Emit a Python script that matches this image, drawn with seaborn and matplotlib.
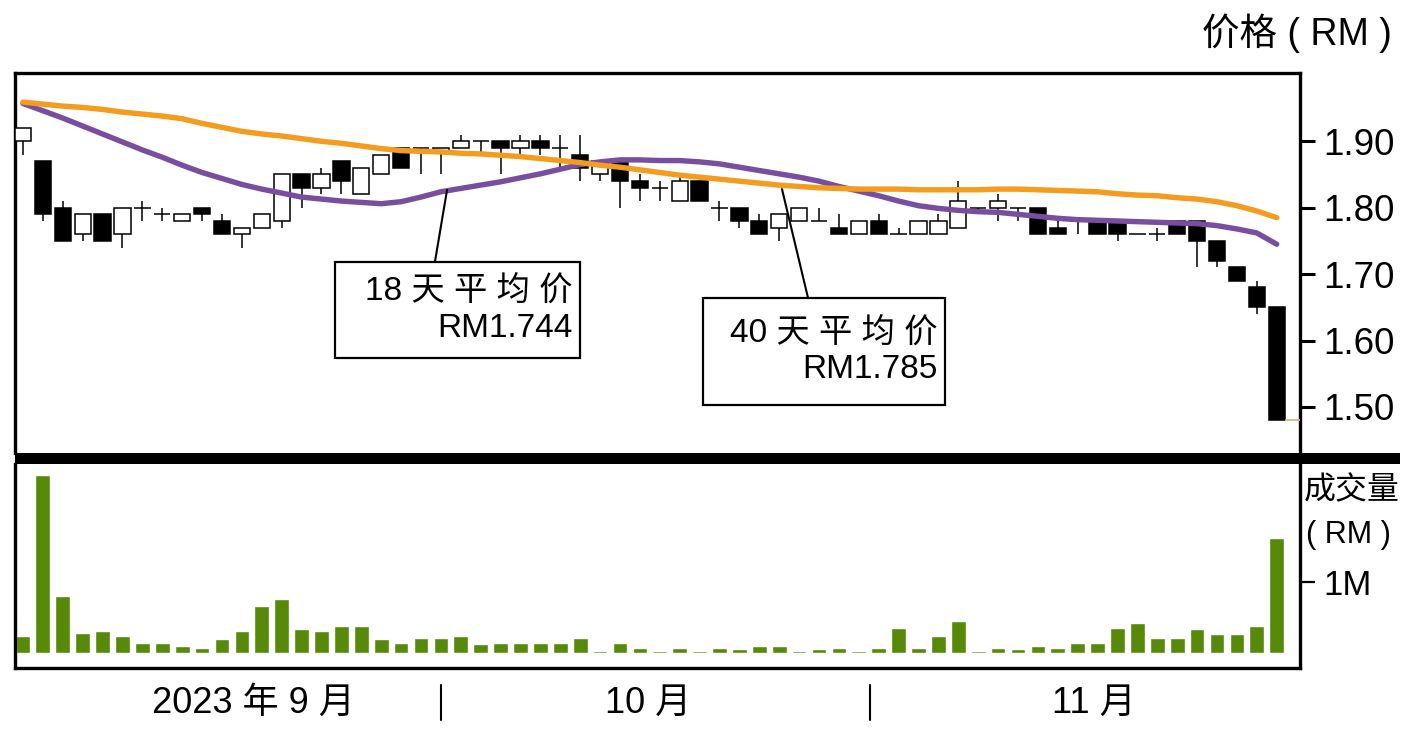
import numpy as np
import pandas as pd
import matplotlib
matplotlib.use("Agg")
import matplotlib.pyplot as plt
import matplotlib.transforms as mtransforms
from matplotlib.patches import Rectangle
from matplotlib.lines import Line2D
import seaborn as sns

# ---------------- data ----------------
opens = [1.90, 1.87, 1.80, 1.76, 1.79, 1.76, 1.80, 1.79, 1.78, 1.80,
         1.78, 1.76, 1.77, 1.78, 1.85, 1.83, 1.87, 1.82, 1.85, 1.89,
         1.89, 1.885, 1.89, 1.90, 1.90, 1.89, 1.90, 1.89, 1.88, 1.85,
         1.87, 1.84, 1.83, 1.81, 1.84, 1.80, 1.80, 1.78, 1.77, 1.78,
         1.78, 1.77, 1.76, 1.78, 1.76, 1.76, 1.76, 1.77, 1.80, 1.80,
         1.80, 1.80, 1.77, 1.78, 1.78, 1.78, 1.76, 1.76, 1.78, 1.78,
         1.75, 1.71, 1.68, 1.65]
closes = [1.92, 1.79, 1.75, 1.79, 1.75, 1.80, 1.80, 1.79, 1.79, 1.79,
          1.76, 1.77, 1.79, 1.85, 1.83, 1.85, 1.84, 1.86, 1.88, 1.86,
          1.89, 1.89, 1.90, 1.90, 1.89, 1.90, 1.89, 1.89, 1.86, 1.87,
          1.84, 1.83, 1.83, 1.84, 1.81, 1.80, 1.78, 1.76, 1.79, 1.80,
          1.78, 1.76, 1.78, 1.76, 1.76, 1.78, 1.78, 1.81, 1.80, 1.81,
          1.80, 1.76, 1.76, 1.78, 1.76, 1.76, 1.76, 1.76, 1.76, 1.75,
          1.72, 1.69, 1.65, 1.48]
highs = [1.92, 1.87, 1.81, 1.79, 1.79, 1.80, 1.81, 1.80, 1.79, 1.80,
         1.79, 1.77, 1.79, 1.85, 1.85, 1.86, 1.87, 1.86, 1.88, 1.89,
         1.89, 1.89, 1.91, 1.90, 1.90, 1.91, 1.91, 1.91, 1.91, 1.87,
         1.87, 1.85, 1.84, 1.85, 1.84, 1.81, 1.80, 1.79, 1.79, 1.80,
         1.80, 1.79, 1.78, 1.79, 1.77, 1.78, 1.79, 1.84, 1.80, 1.82,
         1.80, 1.80, 1.78, 1.78, 1.78, 1.78, 1.76, 1.77, 1.78, 1.78,
         1.75, 1.71, 1.69, 1.65]
lows = [1.88, 1.78, 1.75, 1.75, 1.75, 1.74, 1.78, 1.78, 1.78, 1.78,
        1.76, 1.74, 1.77, 1.77, 1.80, 1.82, 1.82, 1.82, 1.85, 1.86,
        1.85, 1.85, 1.89, 1.88, 1.85, 1.88, 1.88, 1.86, 1.84, 1.84,
        1.80, 1.81, 1.81, 1.81, 1.81, 1.78, 1.77, 1.76, 1.75, 1.78,
        1.78, 1.76, 1.76, 1.76, 1.76, 1.76, 1.76, 1.77, 1.79, 1.78,
        1.78, 1.76, 1.76, 1.76, 1.76, 1.75, 1.76, 1.75, 1.76, 1.71,
        1.71, 1.69, 1.64, 1.48]
ma18 = [1.957, 1.946, 1.935, 1.923, 1.911, 1.899, 1.887, 1.876, 1.864, 1.853,
        1.844, 1.835, 1.828, 1.822, 1.816, 1.813, 1.810, 1.808, 1.806, 1.809,
        1.816, 1.824, 1.829, 1.834, 1.839, 1.845, 1.851, 1.858, 1.865, 1.869,
        1.872, 1.872, 1.871, 1.871, 1.869, 1.866, 1.861, 1.856, 1.851, 1.846,
        1.840, 1.832, 1.825, 1.818, 1.810, 1.803, 1.799, 1.796, 1.794, 1.793,
        1.790, 1.787, 1.784, 1.782, 1.781, 1.780, 1.779, 1.778, 1.777, 1.776,
        1.773, 1.768, 1.762, 1.745]
ma40 = [1.959, 1.956, 1.953, 1.951, 1.948, 1.944, 1.941, 1.938, 1.934, 1.927,
        1.921, 1.915, 1.911, 1.908, 1.904, 1.900, 1.897, 1.893, 1.889, 1.886,
        1.885, 1.884, 1.882, 1.881, 1.879, 1.877, 1.874, 1.871, 1.868, 1.864,
        1.861, 1.857, 1.853, 1.849, 1.846, 1.843, 1.840, 1.837, 1.834, 1.832,
        1.830, 1.829, 1.828, 1.828, 1.828, 1.827, 1.827, 1.827, 1.827, 1.828,
        1.828, 1.827, 1.826, 1.825, 1.824, 1.821, 1.819, 1.818, 1.815, 1.813,
        1.809, 1.803, 1.795, 1.785]
volume_m = [0.24, 2.50, 0.81, 0.29, 0.31, 0.24, 0.14, 0.15, 0.11, 0.08,
            0.20, 0.31, 0.66, 0.76, 0.34, 0.31, 0.39, 0.38, 0.20, 0.15,
            0.21, 0.21, 0.24, 0.13, 0.15, 0.14, 0.15, 0.15, 0.21, 0.04,
            0.14, 0.07, 0.03, 0.07, 0.03, 0.08, 0.06, 0.11, 0.11, 0.04,
            0.06, 0.08, 0.03, 0.08, 0.35, 0.07, 0.24, 0.46, 0.03, 0.07,
            0.06, 0.11, 0.08, 0.14, 0.14, 0.35, 0.43, 0.21, 0.21, 0.34,
            0.27, 0.27, 0.38, 1.61]
price_ticks = [1.50, 1.60, 1.70, 1.80, 1.90]
price_tick_labels = ["1.50", "1.60", "1.70", "1.80", "1.90"]
volume_ticks = [1.0]
volume_tick_labels = ["1M"]
month_positions = [11.6, 31.4, 53.8]
month_labels = ["2023 年 9 月", "10 月", "11 月"]
month_breaks = [21.0, 42.55]
ma18_label = "18 天 平 均 价\nRM1.744"
ma40_label = "40 天 平 均 价\nRM1.785"

# ---------------- styling ----------------
sns.set_style("white")
plt.rcParams["font.family"] = ["Liberation Sans", "Noto Sans CJK SC"]
plt.rcParams["axes.unicode_minus"] = False
plt.rcParams["text.color"] = "black"
plt.rcParams["xtick.color"] = "black"
plt.rcParams["ytick.color"] = "black"
plt.rcParams["xtick.labelcolor"] = "black"
plt.rcParams["ytick.labelcolor"] = "black"

W, H = 1421, 738
fig = plt.figure(figsize=(W / 100, H / 100), dpi=100)
fig.patch.set_facecolor("white")

def fx(px):
    return px / W

def fy(py):
    return 1 - py / H

x_left, x_right = 15, 1300
ax_p = fig.add_axes([fx(x_left), fy(453), fx(x_right - x_left), (453 - 72.7) / H])
ax_v = fig.add_axes([fx(x_left), fy(668), fx(x_right - x_left), (668 - 464) / H])

n = len(opens)
idx = np.arange(n)
xlim = (-0.40, 64.17)

df = pd.DataFrame({"i": idx, "open": opens, "close": closes, "high": highs,
                   "low": lows, "ma18": ma18, "ma40": ma40, "vol": volume_m})

# ---------------- price panel ----------------
ax_p.vlines(df["i"], df["low"], df["high"], color="black", linewidth=1.1, zorder=2)
up = df["close"] >= df["open"]
body_w = 0.82
bottoms = np.minimum(df["open"], df["close"])
heights = np.abs(df["close"] - df["open"])
ax_p.bar(df["i"][up], heights[up], bottom=bottoms[up], width=body_w,
         facecolor="white", edgecolor="black", linewidth=1.1, zorder=3)
ax_p.bar(df["i"][~up], heights[~up], bottom=bottoms[~up], width=body_w,
         facecolor="black", edgecolor="black", linewidth=1.1, zorder=3)

sns.lineplot(data=df, x="i", y="ma18", color="#7a4e9e", linewidth=3.9,
             ax=ax_p, zorder=4, legend=False)
sns.lineplot(data=df, x="i", y="ma40", color="#f39c1e", linewidth=3.9,
             ax=ax_p, zorder=5, legend=False)

# last price marker
ax_p.hlines(closes[-1], n - 1 + body_w / 2, xlim[1], color="#d9b07a", linewidth=1.2, zorder=3)

ax_p.set_xlim(*xlim)
ax_p.set_ylim(1.4306, 2.0033)
ax_p.set_xlabel("")
ax_p.set_ylabel("")
ax_p.set_xticks([])
ax_p.yaxis.tick_right()
ax_p.set_yticks(price_ticks, labels=price_tick_labels)
ax_p.tick_params(axis="y", direction="out", length=11, width=2.2, pad=6,
                 labelsize=26.5, right=True, left=False, colors="black")
for side in ["left", "top", "right"]:
    ax_p.spines[side].set_visible(True)
    ax_p.spines[side].set_linewidth(2.4)
    ax_p.spines[side].set_color("black")
ax_p.spines["bottom"].set_visible(False)

# annotation boxes
ax_p.add_patch(Rectangle((15.68, 1.5737), 27.99 - 15.68, 1.7182 - 1.5737,
                         facecolor="white", edgecolor="black", linewidth=1.6, zorder=6))
ax_p.text(27.6, 1.646, ma18_label, ha="right", va="center", fontsize=24,
          linespacing=1.25, zorder=7, color="black")
ax_p.plot([20.70, 21.31], [1.7182, 1.8267], color="black", linewidth=1.5, zorder=6)

ax_p.add_patch(Rectangle((34.17, 1.5029), 46.33 - 34.17, 1.664 - 1.5029,
                         facecolor="white", edgecolor="black", linewidth=1.6, zorder=6))
ax_p.text(45.95, 1.584, ma40_label, ha="right", va="center", fontsize=24,
          linespacing=1.25, zorder=7, color="black")
ax_p.plot([38.14, 39.45], [1.828, 1.664], color="black", linewidth=1.5, zorder=6)

# ---------------- volume panel ----------------
sns.barplot(data=df, x="i", y="vol", color="#588a09", saturation=1, width=0.74,
            ax=ax_v, zorder=2)
ax_v.set_xlim(*xlim)
ax_v.set_ylim(-0.203, 2.65)
ax_v.set_xlabel("")
ax_v.set_ylabel("")
ax_v.yaxis.tick_right()
ax_v.set_yticks(volume_ticks, labels=volume_tick_labels)
ax_v.tick_params(axis="y", direction="out", length=11, width=1.6, pad=6,
                 labelsize=25, right=True, left=False, colors="black")
ax_v.set_xticks(month_positions, labels=month_labels)
ax_v.tick_params(axis="x", length=0, pad=13, labelsize=26, colors="black")
for side in ["left", "bottom", "right"]:
    ax_v.spines[side].set_visible(True)
    ax_v.spines[side].set_linewidth(2.4)
    ax_v.spines[side].set_color("black")
ax_v.spines["top"].set_visible(False)

trans = mtransforms.blended_transform_factory(ax_v.transData, ax_v.transAxes)
for xb in month_breaks:
    ax_v.add_line(Line2D([xb, xb], [-0.083, -0.255], transform=trans,
                         color="black", linewidth=1.5, clip_on=False))

# thick separator band between the panels
fig.add_artist(Rectangle((fx(15), fy(464)), fx(1400 - 15), 11 / H,
                         transform=fig.transFigure, facecolor="black",
                         edgecolor="none"))

# axis titles
fig.text(fx(1392), fy(33), "价格 ( RM )", ha="right", va="center", fontsize=27,
         color="black")
fig.text(fx(1304), fy(491), "成交量", ha="left", va="center", fontsize=23,
         color="black")
fig.text(fx(1306), fy(535), "( RM )", ha="left", va="center", fontsize=22,
         color="black")

fig.savefig("out.png", dpi=100, facecolor="white")
